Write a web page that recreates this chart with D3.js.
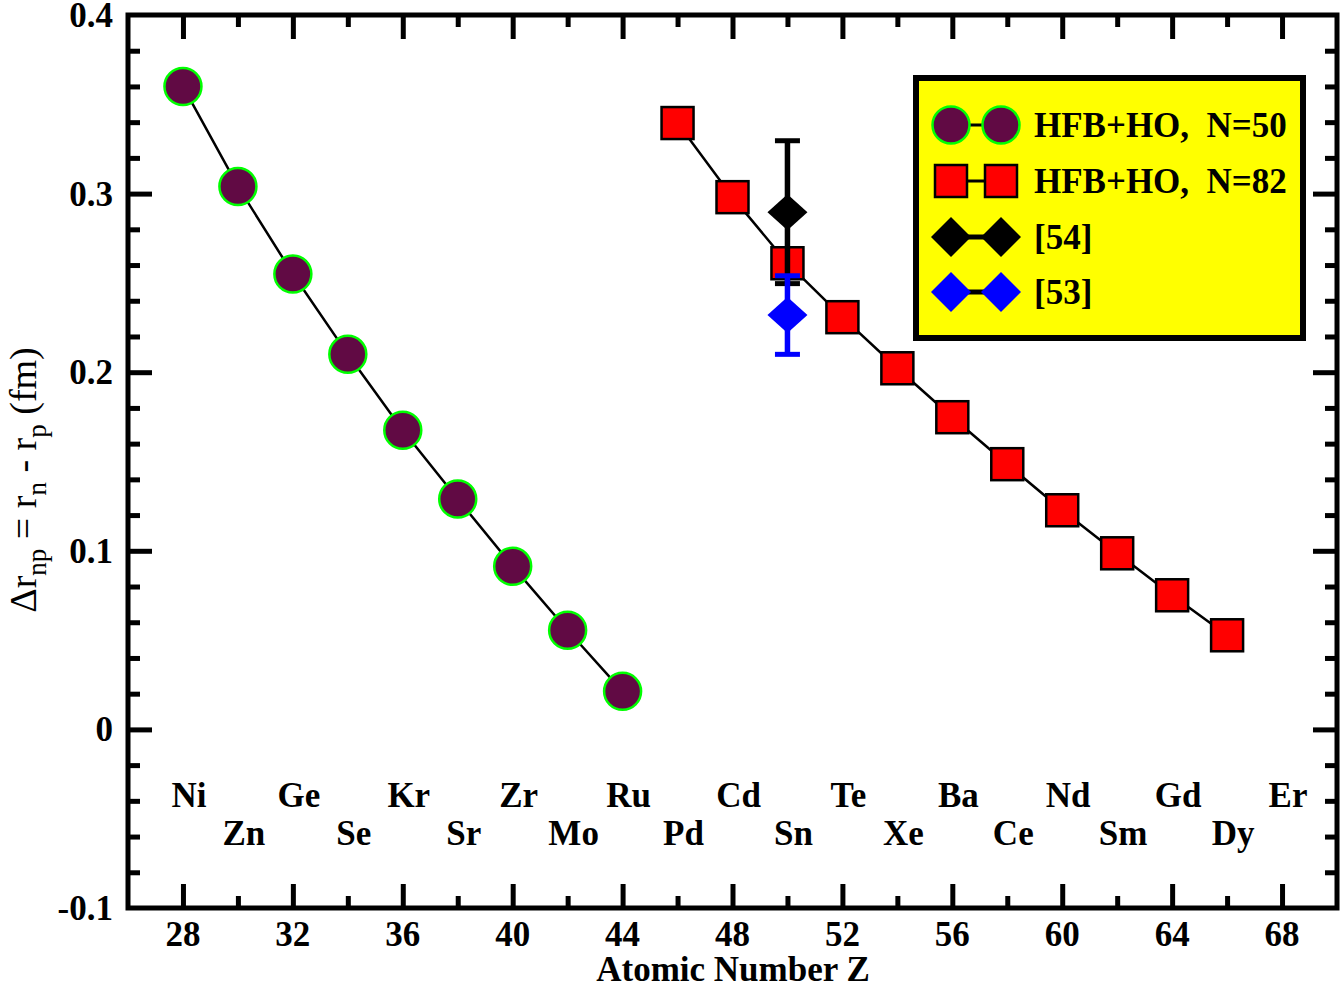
<!DOCTYPE html>
<html lang="en">
<head>
<meta charset="UTF-8">
<title>delta r_np vs Z</title>
<script src="https://d3js.org/d3.v7.min.js"></script>
<style>
    body { margin: 0; background: #fff; }
    text { font-family: "Liberation Serif", "Times New Roman", serif; }
    .bold { font-weight: bold; font-size: 35px; }
</style>
</head>
<body>
<svg id="chart" width="1344" height="988"></svg>
<script>
    // data
    const zN50 = [28, 30, 32, 34, 36, 38, 40, 42, 44];
    const drN50 = [0.360, 0.304, 0.255, 0.210, 0.1675, 0.129, 0.0913, 0.0555, 0.0213];
    const zN82 = [46, 48, 50, 52, 54, 56, 58, 60, 62, 64, 66];
    const drN82 = [0.3395, 0.298, 0.261, 0.2308, 0.2022, 0.1748, 0.1485, 0.1227, 0.0986, 0.0751, 0.0527];
    // experimental points: [54] black, [53] blue
    const expZ = [50, 50];
    const expDr = [0.2896, 0.2320];
    const expErr = [0.040, 0.022];
    const expColor = ["#000000", "#0000ff"];
    // element names under the curves
    const elemTop = ["Ni", "Ge", "Kr", "Zr", "Ru", "Cd", "Te", "Ba", "Nd", "Gd", "Er"];
    const zTop = [28, 32, 36, 40, 44, 48, 52, 56, 60, 64, 68];
    const elemBottom = ["Zn", "Se", "Sr", "Mo", "Pd", "Sn", "Xe", "Ce", "Sm", "Dy"];
    const zBottom = [30, 34, 38, 42, 46, 50, 54, 58, 62, 66];
    const xMajor = [28, 32, 36, 40, 44, 48, 52, 56, 60, 64, 68];
    const yMajor = [-0.1, 0, 0.1, 0.2, 0.3, 0.4];
    const yMajorLabels = ["-0.1", "0", "0.1", "0.2", "0.3", "0.4"];
    const legendLabels = ["HFB+HO,\u00a0\u00a0N=50", "HFB+HO,\u00a0\u00a0N=82", "[54]", "[53]"];

    const svg = d3.select("#chart");
    const pL = 128, pR = 1337, pT = 15, pB = 908;

    const x = d3.scaleLinear().domain([26, 70]).range([pL, pR]);
    const y = d3.scaleLinear().domain([-0.1, 0.4]).range([pB, pT]);

    const circleFill = "#610a44";

    // frame
    svg.append("rect")
        .attr("x", pL).attr("y", pT)
        .attr("width", pR - pL).attr("height", pB - pT)
        .attr("fill", "none").attr("stroke", "#000").attr("stroke-width", 5);

    // ticks: d3 axes, drawn inward on all four sides
    const xMinor = d3.range(30, 70, 4);
    const yMinor = d3.range(-0.08, 0.4, 0.02).filter(v => Math.abs(Math.round(v * 10) / 10 - v) > 1e-6);

    function tickAxis(axis, tr) {
        const g = svg.append("g").attr("transform", tr).call(axis);
        g.select(".domain").remove();
        g.selectAll("line").attr("stroke", "#000").attr("stroke-width", 5);
        g.selectAll("text").remove();
        return g;
    }
    tickAxis(d3.axisTop(x).tickValues(xMajor).tickSize(24), `translate(0,${pB})`);
    tickAxis(d3.axisTop(x).tickValues(xMinor).tickSize(12), `translate(0,${pB})`);
    tickAxis(d3.axisBottom(x).tickValues(xMajor).tickSize(24), `translate(0,${pT})`);
    tickAxis(d3.axisBottom(x).tickValues(xMinor).tickSize(12), `translate(0,${pT})`);
    tickAxis(d3.axisRight(y).tickValues(yMajor.slice(1, -1)).tickSize(24), `translate(${pL},0)`);
    tickAxis(d3.axisRight(y).tickValues(yMinor).tickSize(12), `translate(${pL},0)`);
    tickAxis(d3.axisLeft(y).tickValues(yMajor.slice(1, -1)).tickSize(24), `translate(${pR},0)`);
    tickAxis(d3.axisLeft(y).tickValues(yMinor).tickSize(12), `translate(${pR},0)`);

    // tick labels
    svg.append("g").selectAll("text").data(xMajor).join("text")
        .attr("class", "bold")
        .attr("x", d => x(d)).attr("y", 946)
        .attr("text-anchor", "middle")
        .text(d => d);
    svg.append("g").selectAll("text").data(yMajor).join("text")
        .attr("class", "bold")
        .attr("x", 113).attr("y", d => y(d) + 12)
        .attr("text-anchor", "end")
        .text((d, i) => yMajorLabels[i]);

    // axis titles
    svg.append("text")
        .attr("class", "bold")
        .attr("x", 733).attr("y", 981)
        .attr("text-anchor", "middle")
        .text("Atomic Number Z");

    const yl = svg.append("text")
        .attr("transform", "translate(36,480) rotate(-90)")
        .attr("text-anchor", "middle")
        .style("font-size", "38px");
    yl.append("tspan").text("\u0394r");
    yl.append("tspan").attr("dy", 10).style("font-size", "27px").text("np");
    yl.append("tspan").attr("dy", -10).text(" = r");
    yl.append("tspan").attr("dy", 10).style("font-size", "27px").text("n");
    yl.append("tspan").attr("dy", -10).text(" - r");
    yl.append("tspan").attr("dy", 10).style("font-size", "27px").text("p");
    yl.append("tspan").attr("dy", -10).text(" (fm)");

    // element names
    svg.append("g").selectAll("text").data(elemTop).join("text")
        .attr("class", "bold")
        .attr("x", (d, i) => x(zTop[i]) + 6).attr("y", 807)
        .attr("text-anchor", "middle")
        .text(d => d);
    svg.append("g").selectAll("text").data(elemBottom).join("text")
        .attr("class", "bold")
        .attr("x", (d, i) => x(zBottom[i]) + 6).attr("y", 845)
        .attr("text-anchor", "middle")
        .text(d => d);

    const line = d3.line().x(d => x(d[0])).y(d => y(d[1]));

    // N=50
    const n50 = zN50.map((z, i) => [z, drN50[i]]);
    svg.append("path").datum(n50).attr("d", line)
        .attr("fill", "none").attr("stroke", "#000").attr("stroke-width", 2.5);
    svg.append("g").selectAll("circle").data(n50).join("circle")
        .attr("cx", d => x(d[0])).attr("cy", d => y(d[1])).attr("r", 18.5)
        .attr("fill", circleFill).attr("stroke", "#00ff00").attr("stroke-width", 2.5);

    // N=82
    const n82 = zN82.map((z, i) => [z, drN82[i]]);
    svg.append("path").datum(n82).attr("d", line)
        .attr("fill", "none").attr("stroke", "#000").attr("stroke-width", 2.5);
    svg.append("g").selectAll("rect").data(n82).join("rect")
        .attr("x", d => x(d[0]) - 16).attr("y", d => y(d[1]) - 16)
        .attr("width", 32).attr("height", 32)
        .attr("fill", "#ff0000").attr("stroke", "#000").attr("stroke-width", 2.5);

    // experimental diamonds with error bars
    const diamond = (cx, cy, w, h) => `M${cx - w},${cy}L${cx},${cy - h}L${cx + w},${cy}L${cx},${cy + h}Z`;
    expZ.forEach((z, i) => {
        const g = svg.append("g");
        const cx = x(z);
        g.append("line")
            .attr("x1", cx).attr("x2", cx)
            .attr("y1", y(expDr[i] - expErr[i])).attr("y2", y(expDr[i] + expErr[i]))
            .attr("stroke", expColor[i]).attr("stroke-width", 5.5);
        [expDr[i] - expErr[i], expDr[i] + expErr[i]].forEach(v => {
            g.append("line")
                .attr("x1", cx - 12.5).attr("x2", cx + 12.5)
                .attr("y1", y(v)).attr("y2", y(v))
                .attr("stroke", expColor[i]).attr("stroke-width", 5);
        });
        g.append("path").attr("d", diamond(cx, y(expDr[i]), 20, 18))
            .attr("fill", expColor[i]);
    });

    // legend
    const lg = svg.append("g");
    lg.append("rect")
        .attr("x", 916).attr("y", 78).attr("width", 387).attr("height", 260)
        .attr("fill", "#ffff00").attr("stroke", "#000").attr("stroke-width", 6);
    const rowY = [125, 181, 237, 292];
    const s1 = 951, s2 = 1001;
    legendLabels.forEach((t, i) => {
        const cy = rowY[i];
        lg.append("line").attr("x1", s1).attr("x2", s2).attr("y1", cy).attr("y2", cy)
            .attr("stroke", "#000").attr("stroke-width", i < 2 ? 3 : 5);
        [s1, s2].forEach(cx => {
            if (i === 0) {
                lg.append("circle").attr("cx", cx).attr("cy", cy).attr("r", 18.5)
                    .attr("fill", circleFill).attr("stroke", "#00ff00").attr("stroke-width", 2.5);
            } else if (i === 1) {
                lg.append("rect").attr("x", cx - 16).attr("y", cy - 16).attr("width", 32).attr("height", 32)
                    .attr("fill", "#ff0000").attr("stroke", "#000").attr("stroke-width", 2.5);
            } else {
                lg.append("path").attr("d", diamond(cx, cy, 20, 20)).attr("fill", expColor[i - 2]);
            }
        });
        lg.append("text").attr("class", "bold")
            .attr("x", 1034).attr("y", cy + 12)
            .text(t);
    });
</script>
</body>
</html>
